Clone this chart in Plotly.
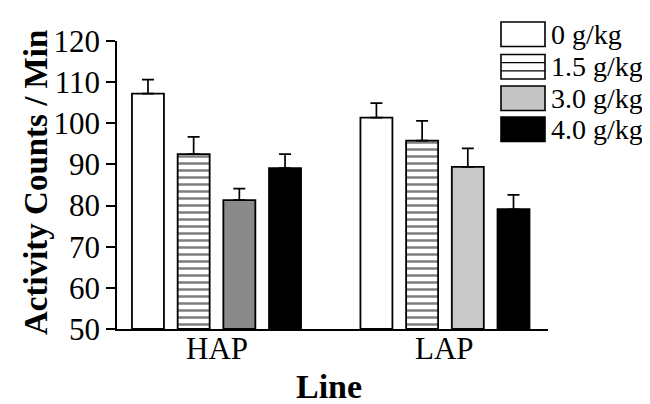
import plotly.graph_objects as go

# ---- data ----
lines = ["HAP", "LAP"]
doses = ["0 g/kg", "1.5 g/kg", "3.0 g/kg", "4.0 g/kg"]
means = {
    "0 g/kg":   [107.2, 101.4],
    "1.5 g/kg": [92.5, 95.8],
    "3.0 g/kg": [81.3, 89.4],
    "4.0 g/kg": [89.1, 79.1],
}
sems = {
    "0 g/kg":   [3.4, 3.5],
    "1.5 g/kg": [4.2, 4.8],
    "3.0 g/kg": [2.8, 4.5],
    "4.0 g/kg": [3.4, 3.5],
}
y_ticks = [50, 60, 70, 80, 90, 100, 110, 120]
x_title = "Line"
y_title = "Activity Counts / Min"

W, H = 650, 404
L, R, T, B = 109, 110, 33, 83
FONT = "Liberation Serif"

styles = {
    "0 g/kg":   dict(color="white"),
    "1.5 g/kg": dict(color="white", pattern=dict(shape="-", fgcolor="black", bgcolor="white",
                                                 size=7, solidity=0.36, fillmode="overlay")),
    "3.0 g/kg": dict(color=["#8a8a8a", "#c9c9c9"]),
    "4.0 g/kg": dict(color="black"),
}

fig = go.Figure()
for d in doses:
    m = dict(line=dict(color="black", width=1.8))
    m.update(styles[d])
    fig.add_trace(go.Bar(
        x=lines, y=[v - 50 for v in means[d]], base=50, name=d,
        marker=m, showlegend=False,
        error_y=dict(type="data", symmetric=False, array=sems[d],
                     arrayminus=[0] * len(lines), color="black", thickness=1.7, width=6),
    ))

fig.update_layout(
    width=W, height=H,
    margin=dict(l=L, r=R, t=T, b=B, autoexpand=False),
    paper_bgcolor="white", plot_bgcolor="white",
    barmode="group", bargap=0.2, bargroupgap=0.3,
    font=dict(family=FONT, color="black"),
)
fig.update_xaxes(
    type="category", range=[-0.4355, 1.451], automargin=False,
    showline=True, linecolor="black", linewidth=1.6,
    ticks="", showticklabels=False,
    showgrid=False, zeroline=False,
)
fig.update_yaxes(
    range=[50, 120], tickvals=y_ticks, automargin=False,
    showline=True, linecolor="black", linewidth=1.6,
    ticks="outside", ticklen=9, tickwidth=1.6, tickcolor="black",
    tickfont=dict(size=31, family=FONT),
    showgrid=False, zeroline=False,
)

ph = H - T - B
pw = W - L - R
def px(x):
    return (x - L) / pw
def py(y):
    return (H - B - y) / ph

# category labels under the axis
for cat in lines:
    fig.add_annotation(xref="x", yref="paper", x=cat, y=py(340), text=cat,
                       showarrow=False, xanchor="center", yanchor="middle",
                       font=dict(size=31, family=FONT, color="black"))

# axis titles
fig.add_annotation(xref="paper", yref="paper", x=px(321), y=py(378), text="<b>%s</b>" % x_title,
                   showarrow=False, xanchor="center", yanchor="middle",
                   font=dict(size=34, family=FONT, color="black"))
fig.add_annotation(xref="paper", yref="paper", x=px(28), y=py(175), text="<b>%s</b>" % y_title,
                   showarrow=False, textangle=-90, xanchor="center", yanchor="middle",
                   font=dict(size=33, family=FONT, color="black"))

# ---- manual legend ----
box_x0, box_x1 = 493, 537
row_tops = [14, 46.5, 78, 109]
box_h = 24.5
fills = ["white", "white", "#c4c4c4", "black"]
for i, d in enumerate(doses):
    y0 = row_tops[i]
    y1 = y0 + box_h
    fig.add_shape(type="rect", xref="paper", yref="paper",
                  x0=px(box_x0), x1=px(box_x1), y0=py(y1), y1=py(y0),
                  fillcolor=fills[i], line=dict(color="black", width=1.6))
    if d == "1.5 g/kg":
        for frac in (1 / 3, 2 / 3):
            yy = y0 + frac * box_h
            fig.add_shape(type="line", xref="paper", yref="paper",
                          x0=px(box_x0), x1=px(box_x1), y0=py(yy), y1=py(yy),
                          line=dict(color="black", width=1.4))
    fig.add_annotation(xref="paper", yref="paper", x=px(541), y=py(y0 + box_h / 2),
                       text=d, showarrow=False, xanchor="left", yanchor="middle",
                       font=dict(size=28, family=FONT, color="black"))

fig.write_html("out.html")
